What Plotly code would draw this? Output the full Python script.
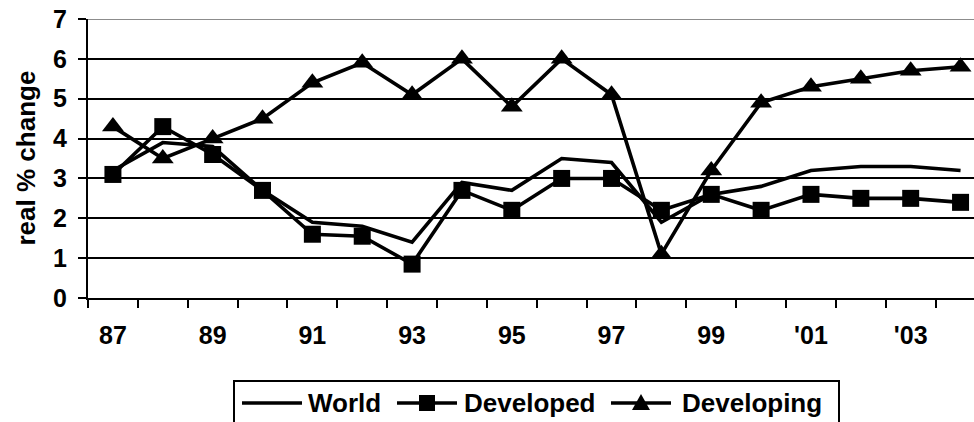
import plotly.graph_objects as go

# Annual real % change, 1987-2004
years = [1987, 1988, 1989, 1990, 1991, 1992, 1993, 1994, 1995,
         1996, 1997, 1998, 1999, 2000, 2001, 2002, 2003, 2004]
world = [3.2, 3.9, 3.8, 2.7, 1.9, 1.8, 1.4, 2.9, 2.7,
         3.5, 3.4, 1.9, 2.6, 2.8, 3.2, 3.3, 3.3, 3.2]
developed = [3.1, 4.3, 3.6, 2.7, 1.6, 1.55, 0.85, 2.7, 2.2,
             3.0, 3.0, 2.2, 2.6, 2.2, 2.6, 2.5, 2.5, 2.4]
developing = [4.3, 3.5, 4.0, 4.5, 5.4, 5.9, 5.1, 6.0, 4.8,
              6.0, 5.1, 1.1, 3.2, 4.9, 5.3, 5.5, 5.7, 5.8]

label_years = [1987, 1989, 1991, 1993, 1995, 1997, 1999, 2001, 2003]
label_text = ["87", "89", "91", "93", "95", "97", "99", "'01", "'03"]
y_ticks = [0, 1, 2, 3, 4, 5, 6, 7]

FONT = "Arial, 'Liberation Sans', sans-serif"
BLACK = "#000000"
LINE_W = 3.6

# plot-area geometry in pixels (used for the hand-drawn legend and title)
W_PX, H_PX = 974, 422
L, T, R, B = 88, 19, 0, 124
PW, PH = W_PX - L - R, H_PX - T - B
CAT_PX = 49.86  # pixel width of one year slot


def px_x(p):
    return (p - L) / PW


def px_y(p):
    return (T + PH - p) / PH


fig = go.Figure()

fig.add_trace(go.Scatter(
    x=years, y=world, name="World", mode="lines",
    line=dict(color=BLACK, width=LINE_W),
))
fig.add_trace(go.Scatter(
    x=years, y=developed, name="Developed", mode="lines+markers",
    line=dict(color=BLACK, width=LINE_W),
    marker=dict(symbol="square", size=17, color=BLACK),
))
fig.add_trace(go.Scatter(
    x=years, y=developing, name="Developing", mode="lines+markers",
    line=dict(color=BLACK, width=LINE_W),
    marker=dict(symbol="triangle-up", size=19, color=BLACK),
))

x_end = years[0] - 0.5 + PW / CAT_PX

fig.update_xaxes(
    range=[years[0] - 0.5, x_end],
    tickmode="array", tickvals=label_years, ticktext=label_text,
    ticks="", showgrid=False, zeroline=False,
    showline=True, linecolor=BLACK, linewidth=2,
    tickfont=dict(family=FONT, size=25, color=BLACK, weight="bold"),
    ticklabelstandoff=14,
    minor=dict(tickmode="array",
               tickvals=[y - 0.5 for y in years] + [years[-1] + 0.5],
               ticks="outside", ticklen=8, tickwidth=2, tickcolor=BLACK,
               showgrid=False),
)

fig.update_yaxes(
    range=[0, 7], tickmode="array", tickvals=y_ticks,
    ticks="outside", ticklen=8, tickwidth=2, tickcolor=BLACK,
    showgrid=True, gridcolor=BLACK, gridwidth=1.5,
    zeroline=False, showline=True, linecolor=BLACK, linewidth=2,
    tickfont=dict(family=FONT, size=25, color=BLACK, weight="bold"),
    ticklabelstandoff=6,
)

shapes = [
    # lighter top border line at 7
    dict(type="line", xref="paper", yref="y", x0=0, x1=1, y0=7, y1=7,
         line=dict(color="#8c8c8c", width=2), layer="above"),
    # legend frame
    dict(type="rect", xref="paper", yref="paper",
         x0=px_x(234), x1=px_x(839), y0=px_y(381), y1=px_y(440),
         line=dict(color=BLACK, width=2), fillcolor="white", layer="above"),
]

annotations = [
    # y-axis title
    dict(text="real % change", xref="paper", yref="paper",
         x=px_x(25), y=0.5, xanchor="center", yanchor="middle",
         textangle=-90, showarrow=False,
         font=dict(family=FONT, size=26, color=BLACK, weight="bold")),
]

LEG_Y = 403
legend_items = [
    ("World", 242, 302, None, 306),
    ("Developed", 397, 457, "square", 462),
    ("Developing", 611, 671, "triangle", 680),
]
for name, lx0, lx1, sym, tx in legend_items:
    shapes.append(dict(type="line", xref="paper", yref="paper",
                       x0=px_x(lx0), x1=px_x(lx1), y0=px_y(LEG_Y), y1=px_y(LEG_Y),
                       line=dict(color=BLACK, width=LINE_W), layer="above"))
    cx = (lx0 + lx1) / 2
    if sym == "square":
        shapes.append(dict(type="rect", xref="paper", yref="paper",
                           x0=px_x(cx - 8), x1=px_x(cx + 8),
                           y0=px_y(LEG_Y + 8), y1=px_y(LEG_Y - 8),
                           fillcolor=BLACK, line=dict(width=0), layer="above"))
    elif sym == "triangle":
        path = "M {:.5f} {:.5f} L {:.5f} {:.5f} L {:.5f} {:.5f} Z".format(
            px_x(cx), px_y(LEG_Y - 9),
            px_x(cx - 9), px_y(LEG_Y + 7),
            px_x(cx + 9), px_y(LEG_Y + 7))
        shapes.append(dict(type="path", xref="paper", yref="paper", path=path,
                           fillcolor=BLACK, line=dict(width=0), layer="above"))
    annotations.append(dict(
        text=name, xref="paper", yref="paper", x=px_x(tx), y=px_y(LEG_Y),
        xanchor="left", yanchor="middle", showarrow=False,
        font=dict(family=FONT, size=26, color=BLACK, weight="bold")))

fig.update_layout(
    width=W_PX, height=H_PX,
    margin=dict(l=L, r=R, t=T, b=B, autoexpand=False),
    paper_bgcolor="white", plot_bgcolor="white",
    showlegend=False,
    shapes=shapes, annotations=annotations,
)

fig.write_html("out.html")
